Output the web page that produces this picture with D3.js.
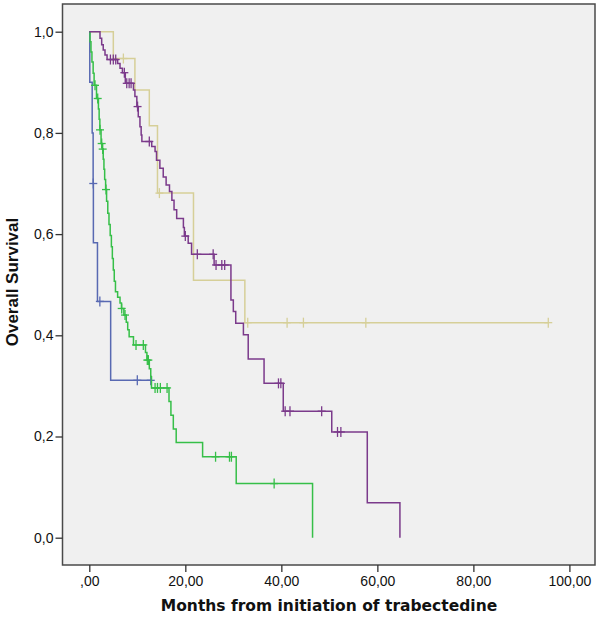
<!DOCTYPE html>
<html>
<head>
<meta charset="utf-8">
<script src="https://cdn.jsdelivr.net/npm/d3@7"></script>
<style>
  html, body { margin: 0; padding: 0; background: #ffffff; }
  svg { display: block; }
</style>
</head>
<body>
<svg id="chart" width="600" height="622"></svg>
<script>
// ---------- DATA ----------
const xTickValues = [0, 20, 40, 60, 80, 100];
const xTickLabels = [",00", "20,00", "40,00", "60,00", "80,00", "100,00"];
const yTickValues = [0, 0.2, 0.4, 0.6, 0.8, 1.0];
const yTickLabels = ["0,0", "0,2", "0,4", "0,6", "0,8", "1,0"];

// Each event: [time in months, survival after the drop]
const blueEvents = [[0.1, 0.9], [0.6, 0.8], [0.8, 0.7], [0.85, 0.583], [1.7, 0.467], [4.45, 0.311]];
const blueCensored = [0.83, 2.2, 10.0, 12.8];

const greenEvents = [
  [0.15, 0.98], [0.35, 0.96], [0.55, 0.94], [0.8, 0.918], [1.0, 0.894],
  [1.5, 0.868], [1.9, 0.847], [2.05, 0.827], [2.2, 0.806], [2.45, 0.779],
  [2.7, 0.768], [2.9, 0.748], [3.05, 0.728], [3.2, 0.708], [3.4, 0.688],
  [3.6, 0.665], [3.85, 0.641], [4.1, 0.619], [4.35, 0.597], [4.6, 0.575],
  [4.8, 0.552], [5.0, 0.529], [5.2, 0.507], [5.45, 0.486], [5.9, 0.475],
  [6.4, 0.464], [6.7, 0.453], [7.2, 0.44], [7.7, 0.426], [8.0, 0.411],
  [8.3, 0.397], [9.2, 0.381], [11.7, 0.366], [12.0, 0.351], [12.5, 0.334],
  [12.8, 0.318], [12.95, 0.296], [16.6, 0.269], [17.0, 0.242], [17.5, 0.215],
  [18.1, 0.188], [23.6, 0.160], [30.6, 0.107], [46.5, 0.0]
];
const greenCensored = [1.19, 1.75, 2.23, 2.58, 2.79, 3.48, 6.75, 7.44, 9.73, 11.25, 12.08, 12.3,
  13.7, 14.2, 14.8, 16.2, 26.3, 29.2, 29.6, 38.5];

const purpleEvents = [
  [2.23, 0.987], [2.58, 0.974], [2.9, 0.964], [3.27, 0.954], [3.7, 0.945],
  [5.9, 0.937], [6.4, 0.928], [6.9, 0.919], [7.5, 0.898], [9.2, 0.885],
  [9.5, 0.872], [9.9, 0.852], [10.2, 0.832], [10.55, 0.812], [10.8, 0.796],
  [10.95, 0.783], [13.0, 0.773], [13.7, 0.763], [14.0, 0.746], [14.7, 0.730],
  [15.4, 0.713], [16.0, 0.697], [16.7, 0.684], [17.2, 0.667], [17.65, 0.648],
  [18.2, 0.631], [19.6, 0.613], [19.8, 0.596], [20.6, 0.582], [21.3, 0.56],
  [26.0, 0.539], [29.5, 0.47], [30.0, 0.447], [30.5, 0.424], [32.1, 0.401],
  [33.1, 0.353], [36.4, 0.305], [40.4, 0.250], [50.5, 0.209], [57.9, 0.069],
  [64.7, 0.0]
];
const purpleCensored = [4.4, 5.0, 5.5, 7.3, 7.8, 8.3, 8.7, 10.05, 12.5, 20.0, 22.5, 25.8,
  26.4, 27.6, 28.2, 39.4, 39.9, 40.8, 41.8, 48.4, 51.7, 52.4];

const tanEvents = [[5.0, 0.947], [9.5, 0.885], [12.5, 0.814], [14.2, 0.681], [21.7, 0.509], [32.4, 0.425]];
const tanCensored = [7.1, 14.6, 33.0, 41.2, 44.6, 57.6, 95.6];

const seriesColors = { tan: "#d6cf98", blue: "#5869b2", green: "#36bf48", purple: "#7b3a8b" };

// ---------- LAYOUT ----------
const svg = d3.select("#chart");
const frame = { left: 62.5, top: 4, right: 595, bottom: 565 };

const x = d3.scaleLinear().domain([0, 100]).range([89.3, 569.4]);
const y = d3.scaleLinear().domain([0, 1]).range([537.7, 31.7]);

// plot background + frame
svg.append("rect")
  .attr("x", frame.left).attr("y", frame.top)
  .attr("width", frame.right - frame.left).attr("height", frame.bottom - frame.top)
  .attr("fill", "#f0f0f0").attr("stroke", "#4a4a4a").attr("stroke-width", 1.5);

// axes
const xAxis = d3.axisBottom(x)
  .tickValues(xTickValues)
  .tickFormat((d, i) => xTickLabels[i])
  .tickSizeInner(7).tickSizeOuter(0).tickPadding(4);
const gx = svg.append("g").attr("transform", `translate(0,${frame.bottom})`).call(xAxis);
gx.select(".domain").remove();

const yAxis = d3.axisLeft(y)
  .tickValues(yTickValues)
  .tickFormat((d, i) => yTickLabels[i])
  .tickSizeInner(7).tickSizeOuter(0).tickPadding(2);
const gy = svg.append("g").attr("transform", `translate(${frame.left},0)`).call(yAxis);
gy.select(".domain").remove();

svg.selectAll(".tick line").attr("stroke", "#333").attr("stroke-width", 1.3);
svg.selectAll(".tick text")
  .attr("fill", "#111")
  .style("font-family", "'Liberation Sans', Arial, sans-serif")
  .style("font-size", "14px");

// axis titles
svg.append("text")
  .attr("x", 329).attr("y", 611)
  .attr("text-anchor", "middle")
  .style("font-family", "'DejaVu Sans', Verdana, sans-serif")
  .style("font-weight", "bold")
  .style("font-size", "15.5px")
  .attr("fill", "#111")
  .text("Months from initiation of trabectedine");

svg.append("text")
  .attr("transform", "translate(18,282) rotate(-90)")
  .attr("text-anchor", "middle")
  .style("font-family", "'Liberation Sans', Arial, sans-serif")
  .style("font-weight", "bold")
  .style("font-size", "17px")
  .attr("fill", "#111")
  .text("Overall Survival");

// ---------- CURVES ----------
function survivalAt(events, t) {
  let s = 1;
  for (const e of events) { if (e[0] <= t) s = e[1]; else break; }
  return s;
}

const line = d3.line()
  .x(d => x(d[0]))
  .y(d => y(d[1]))
  .curve(d3.curveStepAfter);

function drawSeries(events, censored, color) {
  const last = events[events.length - 1];
  const end = Math.max(last[0], d3.max(censored));
  const pts = [[0, 1]].concat(events);
  if (end > last[0]) pts.push([end, last[1]]);
  const g = svg.append("g");
  g.append("path")
    .attr("d", line(pts))
    .attr("fill", "none")
    .attr("stroke", color)
    .attr("stroke-width", 1.5);
  const marks = g.selectAll("g.cens").data(censored).enter().append("g")
    .attr("transform", d => `translate(${x(d)},${y(survivalAt(events, d))})`);
  marks.append("line").attr("x1", 0).attr("x2", 0).attr("y1", -5).attr("y2", 5)
    .attr("stroke", color).attr("stroke-width", 1.3);
  marks.append("line").attr("x1", -4).attr("x2", 4).attr("y1", 0).attr("y2", 0)
    .attr("stroke", color).attr("stroke-width", 1.3);
}

drawSeries(tanEvents, tanCensored, seriesColors.tan);
drawSeries(blueEvents, blueCensored, seriesColors.blue);
drawSeries(greenEvents, greenCensored, seriesColors.green);
drawSeries(purpleEvents, purpleCensored, seriesColors.purple);
</script>
</body>
</html>
